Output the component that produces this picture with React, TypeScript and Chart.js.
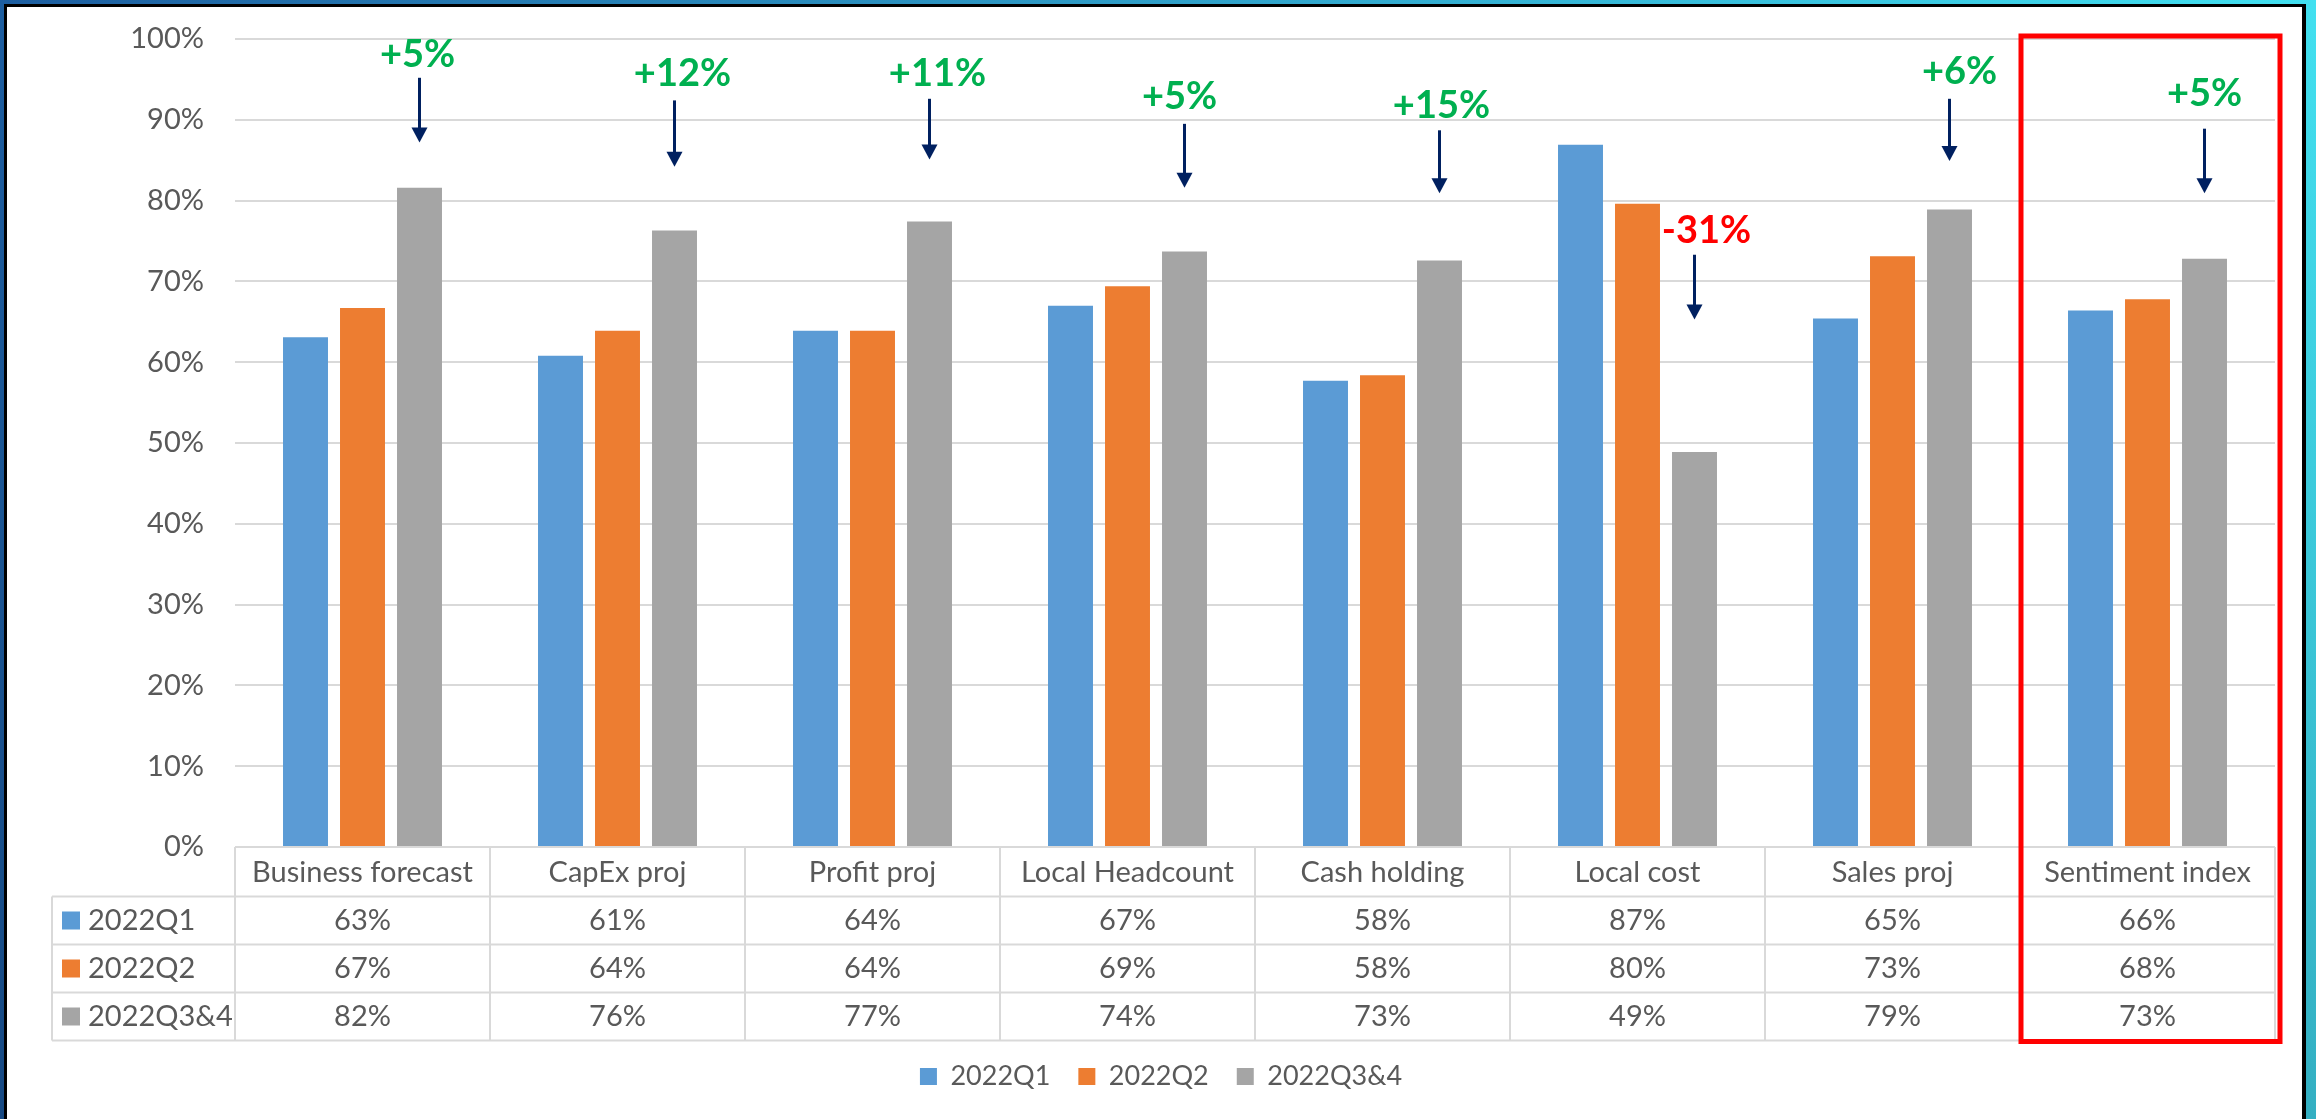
import React, { useEffect, useRef } from "react";
import { Chart, registerables } from "chart.js";

Chart.register(...registerables);

// ---- data ----
const categories = [
  "Business forecast",
  "CapEx proj",
  "Profit proj",
  "Local Headcount",
  "Cash holding",
  "Local cost",
  "Sales proj",
  "Sentiment index",
];
const seriesNames = ["2022Q1", "2022Q2", "2022Q3&4"];
const q1Values = [63.1, 60.8, 63.9, 67.0, 57.7, 86.9, 65.4, 66.4];
const q2Values = [66.7, 63.9, 63.9, 69.4, 58.4, 79.6, 73.1, 67.8];
const q34Values = [81.6, 76.3, 77.4, 73.7, 72.6, 48.9, 78.9, 72.8];

// change annotations (label, text y / arrow start / arrow tip in axis %)
const changeLabels = ["+5%", "+12%", "+11%", "+5%", "+15%", "-31%", "+6%", "+5%"];
const changeTextY = [98.0, 95.7, 95.7, 92.8, 91.7, 76.3, 96.0, 93.2];
const arrowFromY = [95.2, 92.4, 92.6, 89.5, 88.7, 73.3, 92.6, 88.9];
const arrowToY = [87.2, 84.2, 85.1, 81.6, 80.9, 65.3, 84.9, 80.9];
const changeTextDx = [-2, 8, 8, -5, 2, 12, 10, 0];
const highlightIndex = 7;

// ---- styles ----
const COLORS = ["#5B9BD5", "#ED7D31", "#A5A5A5"];
const TEXT = "#595959";
const GRID = "#D9D9D9";
const FONT = "Lato, 'Noto Sans', sans-serif";
const FS = 29;

const W = 2295;
const H = 1112;
const HEADER_H = 49.5;
const ROW_H = 48;
const LABEL_COL_LEFT = 45;

const seriesValues = [q1Values, q2Values, q34Values];

const tablePlugin = {
  id: "tableAndNotes",
  afterDraw(chart: any) {
    const ctx = chart.ctx as CanvasRenderingContext2D;
    const xs = chart.scales.x;
    const ys = chart.scales.y;
    const area = chart.chartArea;
    const catW = xs.getPixelForValue(1) - xs.getPixelForValue(0);
    const top = area.bottom;
    const headerBottom = top + HEADER_H;
    const tableBottom = headerBottom + 3 * ROW_H;

    ctx.save();
    // table lines
    ctx.strokeStyle = GRID;
    ctx.lineWidth = 2;
    ctx.beginPath();
    for (let r = 0; r <= 3; r++) {
      const y = headerBottom + r * ROW_H;
      ctx.moveTo(LABEL_COL_LEFT, y);
      ctx.lineTo(area.right, y);
    }
    ctx.moveTo(area.left, top);
    ctx.lineTo(area.left, tableBottom);
    for (let i = 0; i < categories.length; i++) {
      const x = xs.getPixelForValue(i) + catW / 2;
      ctx.moveTo(x, top);
      ctx.lineTo(x, tableBottom);
    }
    ctx.moveTo(LABEL_COL_LEFT, headerBottom);
    ctx.lineTo(LABEL_COL_LEFT, tableBottom);
    ctx.stroke();

    // table text
    ctx.font = `${FS}px ${FONT}`;
    ctx.fillStyle = TEXT;
    ctx.textBaseline = "middle";
    for (let s = 0; s < seriesNames.length; s++) {
      const cy = headerBottom + (s + 0.5) * ROW_H;
      ctx.fillStyle = COLORS[s];
      ctx.fillRect(LABEL_COL_LEFT + 10, cy - 9, 18, 18);
      ctx.fillStyle = TEXT;
      ctx.textAlign = "left";
      ctx.fillText(seriesNames[s], LABEL_COL_LEFT + 36, cy);
      ctx.textAlign = "center";
      for (let i = 0; i < categories.length; i++) {
        ctx.fillText(Math.round(seriesValues[s][i]) + "%", xs.getPixelForValue(i), cy);
      }
    }

    // change annotations
    const meta = chart.getDatasetMeta(2);
    for (let i = 0; i < categories.length; i++) {
      const bx = meta.data[i].x;
      const y0 = ys.getPixelForValue(arrowFromY[i]);
      const y1 = ys.getPixelForValue(arrowToY[i]);
      ctx.strokeStyle = "#002060";
      ctx.fillStyle = "#002060";
      ctx.lineWidth = 3;
      ctx.beginPath();
      ctx.moveTo(bx, y0);
      ctx.lineTo(bx, y1 - 12);
      ctx.stroke();
      ctx.beginPath();
      ctx.moveTo(bx - 8, y1 - 15);
      ctx.lineTo(bx + 8, y1 - 15);
      ctx.lineTo(bx, y1);
      ctx.closePath();
      ctx.fill();

      const lbl = changeLabels[i];
      ctx.font = `bold 38px ${FONT}`;
      ctx.fillStyle = lbl.startsWith("-") ? "#FF0000" : "#00B050";
      ctx.textAlign = "center";
      ctx.textBaseline = "middle";
      ctx.fillText(lbl, bx + changeTextDx[i], ys.getPixelForValue(changeTextY[i]));
    }

    // highlight box
    const hx0 = xs.getPixelForValue(highlightIndex) - catW / 2 + 1;
    const hx1 = area.right + 5;
    ctx.strokeStyle = "#FF0000";
    ctx.lineWidth = 5;
    ctx.strokeRect(hx0, area.top - 3, hx1 - hx0, tableBottom + 1 - (area.top - 3));
    ctx.restore();
  },
};

export default function App() {
  const ref = useRef<HTMLCanvasElement>(null);

  useEffect(() => {
    document.body.style.margin = "0";
    const canvas = ref.current!;
    const chart = new Chart(canvas, {
      type: "bar",
      data: {
        labels: categories,
        datasets: seriesNames.map((name, s) => ({
          label: name,
          data: seriesValues[s],
          backgroundColor: COLORS[s],
          borderWidth: 0,
          categoryPercentage: 0.6706,
          barPercentage: 0.789,
        })),
      },
      options: {
        responsive: false,
        devicePixelRatio: 1,
        animation: false,
        events: [],
        layout: { padding: { top: 32, right: 27, bottom: 19, left: 40 } },
        plugins: {
          tooltip: { enabled: false },
          legend: {
            position: "bottom",
            labels: {
              boxWidth: 17,
              boxHeight: 17,
              padding: 28,
              color: TEXT,
              font: { family: FONT, size: 27 },
            },
          },
        },
        scales: {
          x: {
            grid: { display: false },
            border: { display: false },
            ticks: {
              color: TEXT,
              font: { family: FONT, size: FS },
              padding: 0,
              maxRotation: 0,
              autoSkip: false,
            },
            afterFit: (scale: any) => {
              scale.height = 188;
            },
          },
          y: {
            min: 0,
            max: 100,
            grid: {
              color: GRID,
              lineWidth: 2,
              drawTicks: true,
              tickLength: 31,
              tickColor: "rgba(0,0,0,0)",
            },
            border: { display: false },
            ticks: {
              stepSize: 10,
              color: TEXT,
              font: { family: FONT, size: FS },
              padding: 0,
              callback: (v: any) => v + "%",
            },
            afterFit: (scale: any) => {
              scale.width = 188;
            },
          },
        },
      },
      plugins: [tablePlugin],
    });
    return () => chart.destroy();
  }, []);

  return (
    <div
      style={{
        position: "fixed",
        left: 0,
        top: 0,
        width: 2316,
        height: 1119,
        background:
          "linear-gradient(to bottom, rgba(0,0,30,0) 0%, rgba(0,0,30,0.22) 100%), linear-gradient(to right, #1d5ea0, #42e0f0)",
        overflow: "hidden",
      }}
    >
      <div
        style={{
          position: "absolute",
          left: 4,
          top: 4,
          width: 2302,
          height: 1115,
          boxSizing: "border-box",
          borderTop: "3px solid #000",
          borderLeft: "3px solid #000",
          borderRight: "4px solid #000",
          background: "#fff",
        }}
      >
        <canvas ref={ref} width={W} height={H} style={{ display: "block", width: W, height: H }} />
      </div>
    </div>
  );
}
